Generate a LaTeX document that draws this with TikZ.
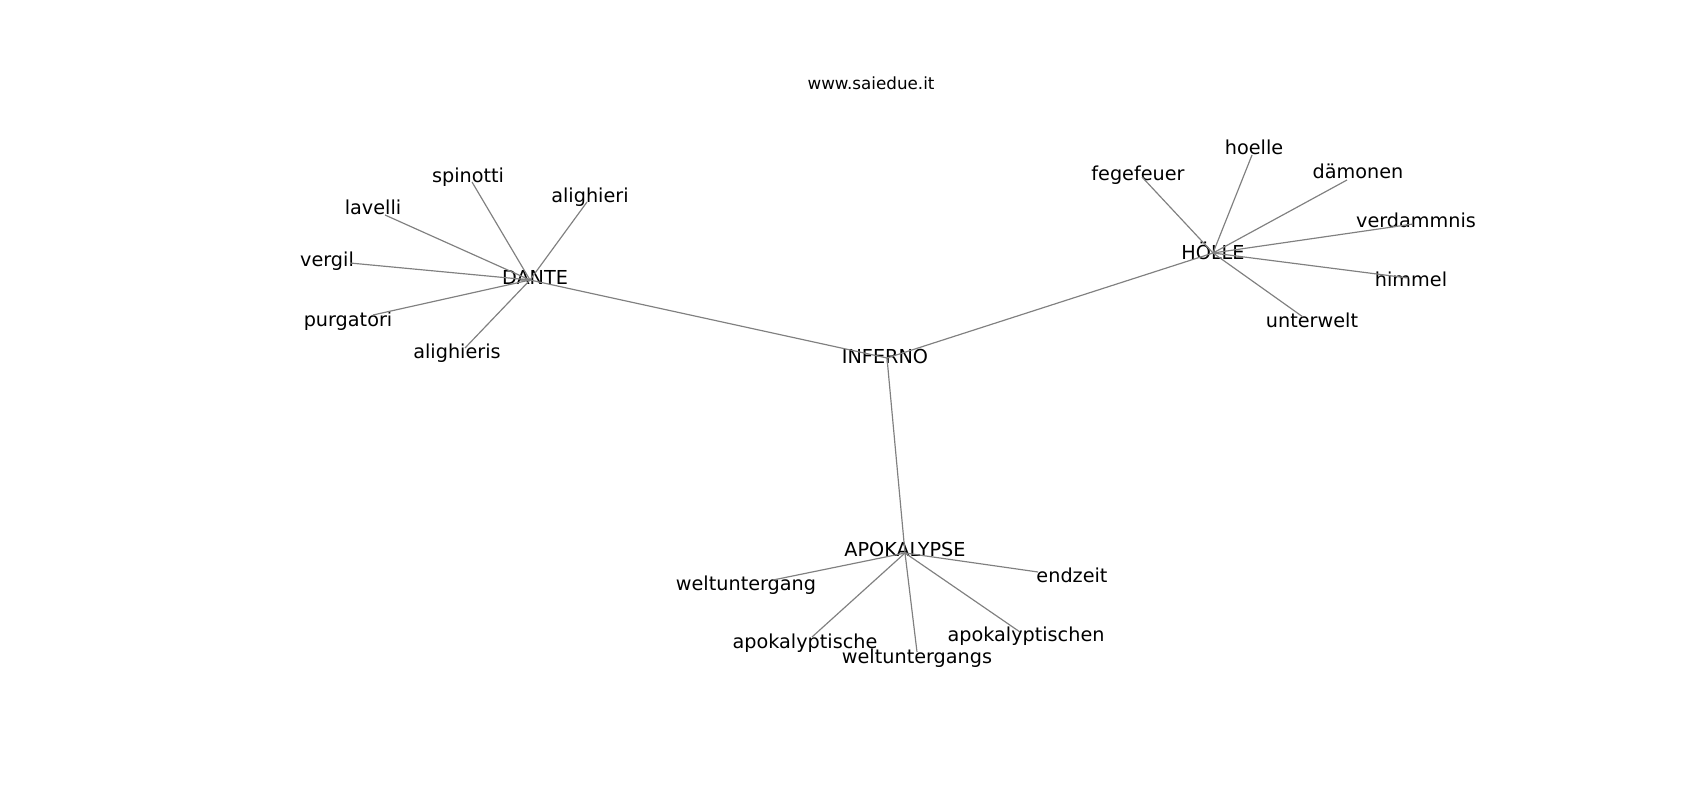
\documentclass[tikz,border=0pt]{standalone}
\usepackage{fontspec}
\setmainfont{DejaVu Sans}
\usepackage{tikz}
\newcommand{\wordfont}{\fontsize{13.9}{16}\selectfont}
\newcommand{\titlefont}{\fontsize{12.1}{14}\selectfont}

\begin{document}
\begin{tikzpicture}[x=0.0254cm,y=-0.0254cm,
  word/.style={font=\wordfont,inner sep=0pt,text height=0.73em,text depth=0pt,yshift=-1.2pt},
  link/.style={draw=gray,line width=0.85pt}]
  \useasboundingbox (0,0) rectangle (1700,800);

  \node [font=\titlefont,inner sep=0pt] (site) at (871,83) {www.saiedue.it};

  % hubs
  \node [word] (inferno) at (885,357) {INFERNO};
  \node [word] (dante) at (535,278) {DANTE};
  \node [word] (hoelle) at (1213,253) {HÖLLE};
  \node [word] (apok) at (905,550) {APOKALYPSE};
  \coordinate (inferno-p) at (887,358);
  \coordinate (dante-p) at (530,280);
  \coordinate (hoelle-p) at (1213,253);
  \coordinate (apok-p) at (905,553);

  % dante
  \node [word] (spinotti) at (468,176) {spinotti};
  \node [word] (alighieri) at (590,196) {alighieri};
  \node [word] (lavelli) at (373,208) {lavelli};
  \node [word] (vergil) at (327,260) {vergil};
  \node [word] (purgatori) at (348,320) {purgatori};
  \node [word] (alighieris) at (457,352) {alighieris};
  \coordinate (spinotti-p) at (472,182);
  \coordinate (alighieri-p) at (587,202);
  \coordinate (lavelli-p) at (385,215);
  \coordinate (vergil-p) at (350,263);
  \coordinate (purgatori-p) at (373,315);
  \coordinate (alighieris-p) at (465,348);

  % hoelle
  \node [word] (fegefeuer) at (1138,174) {fegefeuer};
  \node [word] (hoelle2) at (1254,148) {hoelle};
  \node [word] (daemonen) at (1358,172) {dämonen};
  \node [word] (verdammnis) at (1416,221) {verdammnis};
  \node [word] (himmel) at (1411,280) {himmel};
  \node [word] (unterwelt) at (1312,321) {unterwelt};
  \coordinate (fegefeuer-p) at (1142,177);
  \coordinate (hoelle2-p) at (1252,155);
  \coordinate (daemonen-p) at (1347,180);
  \coordinate (verdammnis-p) at (1413,224);
  \coordinate (himmel-p) at (1408,278);
  \coordinate (unterwelt-p) at (1303,317);

  % apokalypse
  \node [word] (welt) at (746,584) {weltuntergang};
  \node [word] (endzeit) at (1072,576) {endzeit};
  \node [word] (apokt) at (805,642) {apokalyptische};
  \node [word] (welts) at (917,657) {weltuntergangs};
  \node [word] (apoktn) at (1026,635) {apokalyptischen};
  \coordinate (welt-p) at (773,580);
  \coordinate (endzeit-p) at (1038,572);
  \coordinate (apokt-p) at (812,637);
  \coordinate (welts-p) at (917,652);
  \coordinate (apoktn-p) at (1020,632);

  \path (inferno-p) edge[link] (dante-p);
  \path (inferno-p) edge[link] (hoelle-p);
  \path (inferno-p) edge[link] (apok-p);

  \path (dante-p) edge[link] (spinotti-p);
  \path (dante-p) edge[link] (alighieri-p);
  \path (dante-p) edge[link] (lavelli-p);
  \path (dante-p) edge[link] (vergil-p);
  \path (dante-p) edge[link] (purgatori-p);
  \path (dante-p) edge[link] (alighieris-p);

  \path (hoelle-p) edge[link] (fegefeuer-p);
  \path (hoelle-p) edge[link] (hoelle2-p);
  \path (hoelle-p) edge[link] (daemonen-p);
  \path (hoelle-p) edge[link] (verdammnis-p);
  \path (hoelle-p) edge[link] (himmel-p);
  \path (hoelle-p) edge[link] (unterwelt-p);

  \path (apok-p) edge[link] (welt-p);
  \path (apok-p) edge[link] (endzeit-p);
  \path (apok-p) edge[link] (apokt-p);
  \path (apok-p) edge[link] (welts-p);
  \path (apok-p) edge[link] (apoktn-p);
\end{tikzpicture}
\end{document}
